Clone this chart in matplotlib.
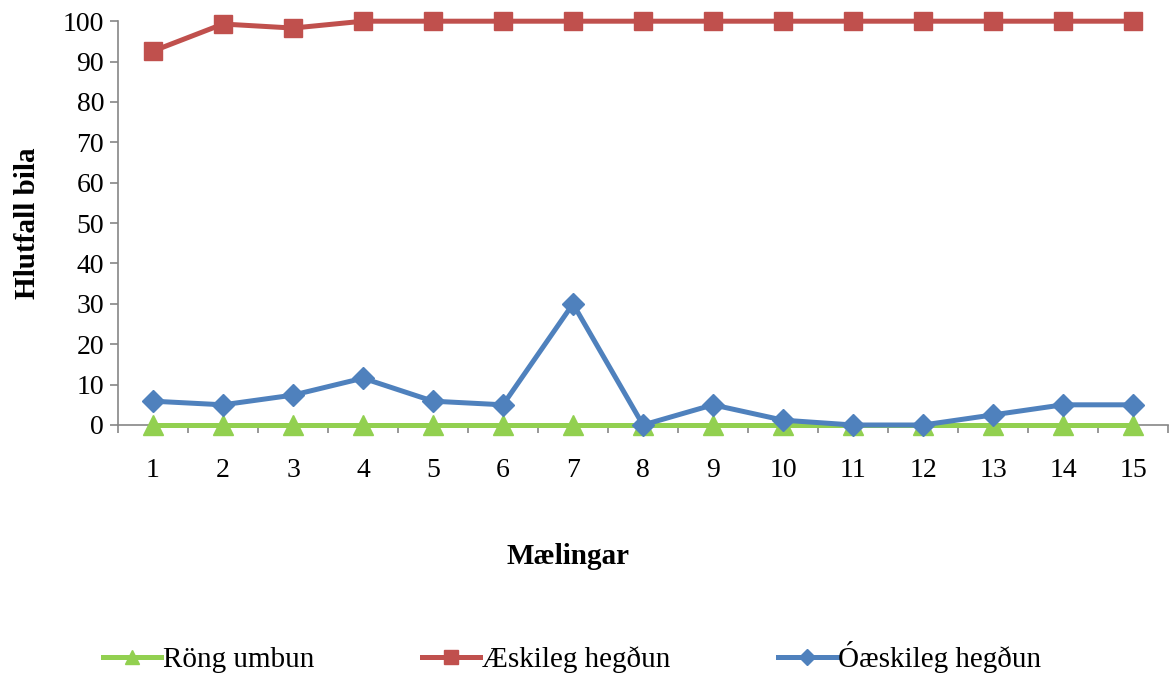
import numpy as np
import matplotlib
matplotlib.use("Agg")
import matplotlib.pyplot as plt
from matplotlib.ticker import FixedLocator

plt.rcParams['font.family'] = ['Liberation Serif', 'DejaVu Serif']

# ---------------- gögn ----------------
maelingar = [str(i) for i in range(1, 16)]
rong_umbun = [0, 0, 0, 0, 0, 0, 0, 0, 0, 0, 0, 0, 0, 0, 0]
aeskileg = [92.6, 99.3, 98.3, 100, 100, 100, 100, 100, 100, 100, 100, 100, 100, 100, 100]
oaeskileg = [5.9, 5.0, 7.4, 11.6, 5.9, 5.0, 30.0, 0, 5.0, 1.2, 0, 0, 2.5, 5.0, 5.0]

x = np.arange(1, len(maelingar) + 1)
fs = 20

fig = plt.figure(figsize=(11.71, 6.73), dpi=100)
ax = fig.add_axes([118/1171, 0.3685, 1050/1171, 0.600])

l1, = ax.plot(x, rong_umbun, color='#92D050', lw=3.6, marker='^', ms=14,
              label='Röng umbun', clip_on=False, zorder=3)
l2, = ax.plot(x, aeskileg, color='#C0504D', lw=3.6, marker='s', ms=13,
              label='Æskileg hegðun', clip_on=False, zorder=3)
l3, = ax.plot(x, oaeskileg, color='#4F81BD', lw=3.6, marker='D', ms=11,
              label='Óæskileg hegðun', clip_on=False, zorder=4)

ax.set_xlim(0.5, len(x) + 0.5)
ax.set_ylim(0, 100)
ax.set_yticks(np.arange(0, 101, 10))
ax.set_xticks(x)
ax.set_xticklabels(maelingar)
ax.tick_params(axis='x', which='major', length=0, pad=24, labelsize=fs)
ax.xaxis.set_minor_locator(FixedLocator(np.arange(0.5, len(x) + 1, 1)))
ax.tick_params(axis='x', which='minor', length=6, color='#868686', width=1.2)
ax.tick_params(axis='y', length=6, color='#868686', width=1.2, labelsize=fs, pad=4)

for s in ['top', 'right']:
    ax.spines[s].set_visible(False)
for s in ['left', 'bottom']:
    ax.spines[s].set_color('#868686')
    ax.spines[s].set_linewidth(1.2)

ax.set_ylabel('Hlutfall bila', fontsize=21, fontweight='bold', labelpad=16)
fig.text(568/1171, 1 - 557/673, 'Mælingar', fontsize=21, fontweight='bold',
         ha='center', va='center')

fig.legend(handles=[l1, l2, l3], loc='center left', bbox_to_anchor=(103/1171, 1 - 657/673),
           ncol=3, frameon=False, fontsize=21, columnspacing=3.7, handlelength=2.0,
           handletextpad=0.05, markerscale=0.75, borderaxespad=0, borderpad=0)

fig.savefig('out.png', dpi=100)
